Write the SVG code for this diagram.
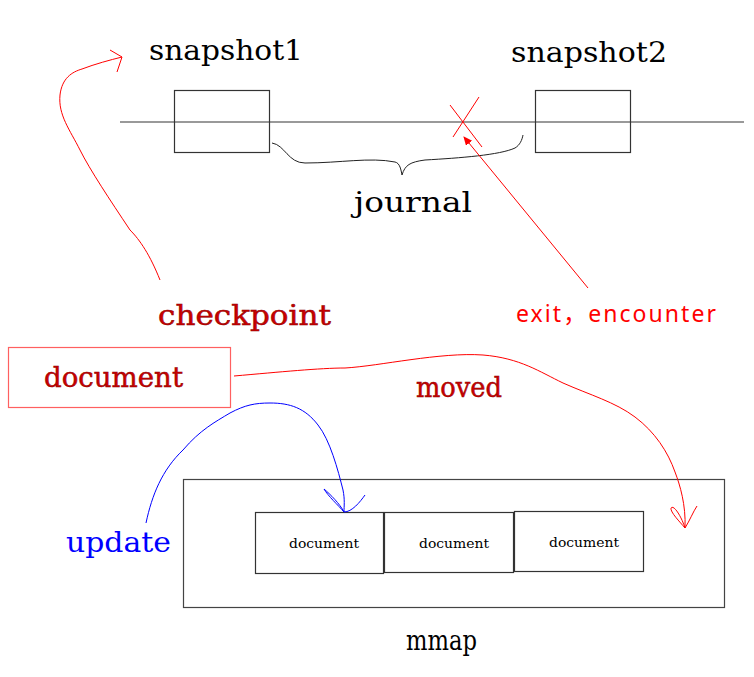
<svg xmlns="http://www.w3.org/2000/svg" width="754" height="677" viewBox="0 0 754 677">
<defs>
<style>
.lbl{font-family:"DejaVu Serif","Liberation Serif",serif;font-size:27px;fill:#000}
.red{font-family:"DejaVu Serif","Liberation Serif",serif;font-size:28px;fill:#cc0000;stroke:#8b0000;stroke-width:0.5}
.small{font-family:"DejaVu Serif","Liberation Serif",serif;font-size:12.5px;fill:#000}
.box{fill:none;stroke:#333;stroke-width:1.2}
.rc{fill:none;stroke:#ff0000;stroke-width:1}
.bc{fill:none;stroke:#0000ff;stroke-width:1}
</style>
<marker id="ah" markerWidth="10" markerHeight="10" refX="8" refY="4" orient="auto" markerUnits="userSpaceOnUse">
<path d="M0,0 L9,4 L0,8 Z" fill="#ff0000"/>
</marker>
</defs>
<rect width="754" height="677" fill="#fff"/>
<g id="timeline">
<line x1="120" y1="122" x2="744" y2="122" stroke="#777" stroke-width="1.5"/>
</g>
<g id="snapshot1">
<rect class="box" x="174.5" y="90.5" width="95" height="62"/>
<text class="lbl" x="149" y="60" textLength="154" lengthAdjust="spacingAndGlyphs">snapshot1</text>
</g>
<g id="snapshot2">
<rect class="box" x="535.5" y="90.5" width="95" height="62"/>
<text class="lbl" x="511" y="62" textLength="156" lengthAdjust="spacingAndGlyphs">snapshot2</text>
</g>
<g id="journal">
<path d="M272,143 C285,145 288,163 305,163 C340,163 370,157 395,162 C400,163 401,170 402,175 C405,165 410,162 425,160 C460,158 500,155 515,148 C520,145 522,140 523,135" fill="none" stroke="#222" stroke-width="1"/>
<text class="lbl" x="354" y="212" textLength="118" lengthAdjust="spacingAndGlyphs">journal</text>
</g>
<g id="cross">
<line x1="450" y1="105" x2="482" y2="147" stroke="#ff0000" stroke-width="1"/>
<line x1="479" y1="97" x2="453" y2="137" stroke="#ff0000" stroke-width="1"/>
</g>
<g id="exit">
<text x="516" y="322" font-family="'Noto Sans','Noto Sans CJK SC',sans-serif" font-size="23" fill="#ff0000" textLength="200">exit，encounter</text>
</g>
<g id="checkpoint">
<text class="red" x="158" y="325" textLength="173" lengthAdjust="spacingAndGlyphs">checkpoint</text>
</g>
<g id="document-main">
<rect x="8.5" y="347.5" width="222" height="60" fill="none" stroke="#ff6060" stroke-width="1.2"/>
<text class="red" x="44" y="387" textLength="139" lengthAdjust="spacingAndGlyphs">document</text>
</g>
<g id="moved">
<text class="red" x="416" y="397" textLength="86" lengthAdjust="spacingAndGlyphs">moved</text>
</g>
<g id="mmap">
<rect x="183.5" y="479.5" width="541" height="128" fill="none" stroke="#444" stroke-width="1.2"/>
<text class="lbl" x="406" y="650" textLength="71" lengthAdjust="spacingAndGlyphs">mmap</text>
</g>
<g id="doc1">
<rect class="box" x="255.5" y="512.5" width="128" height="61"/>
<text class="small" x="289" y="548" textLength="70" lengthAdjust="spacingAndGlyphs">document</text>
</g>
<g id="doc2">
<rect class="box" x="384.5" y="512.5" width="129" height="60"/>
<text class="small" x="419" y="548" textLength="70" lengthAdjust="spacingAndGlyphs">document</text>
</g>
<g id="doc3">
<rect class="box" x="514.5" y="511.5" width="129" height="60"/>
<text class="small" x="549" y="547" textLength="70" lengthAdjust="spacingAndGlyphs">document</text>
</g>
<g id="update">
<text x="66" y="552" font-family="'DejaVu Serif','Liberation Serif',serif" font-size="27" fill="#0000ff" textLength="105" lengthAdjust="spacingAndGlyphs">update</text>
</g>
<g id="connectors">
<path class="rc" d="M160,280 C150,255 140,240 130,230 C110,200 90,170 80,150 C70,130 58,115 60,95 C62,78 72,72 82,69 C95,64 110,60 122,57"/>
<path class="rc" d="M110,50 L122,57 L117,72"/>
<path d="M588,288 L464,137" stroke="#ff0000" stroke-width="1" fill="none" marker-end="url(#ah)"/>
<path class="rc" d="M234,376 C280,372 320,368 345,368 C380,366 440,352 483,355 C520,358 540,372 563,383 C590,395 615,402 635,417 C655,432 668,452 675,472 C680,485 686,505 685,528"/>
<path class="rc" d="M685,528 C680,522 670,512 671,508 C674,504 682,518 685,528 C690,520 693,512 697,506"/>
<path class="bc" d="M146,523 C152,495 162,470 183,450 C200,430 215,422 230,413 C245,405 255,403 270,403 C290,403 305,408 318,425 C330,440 338,470 343,490 C345,500 344,506 344,512"/>
<path class="bc" d="M344,512 C338,505 328,496 324,489 C330,494 340,504 344,512 C352,512 360,502 365,495"/>
</g>
</svg>
